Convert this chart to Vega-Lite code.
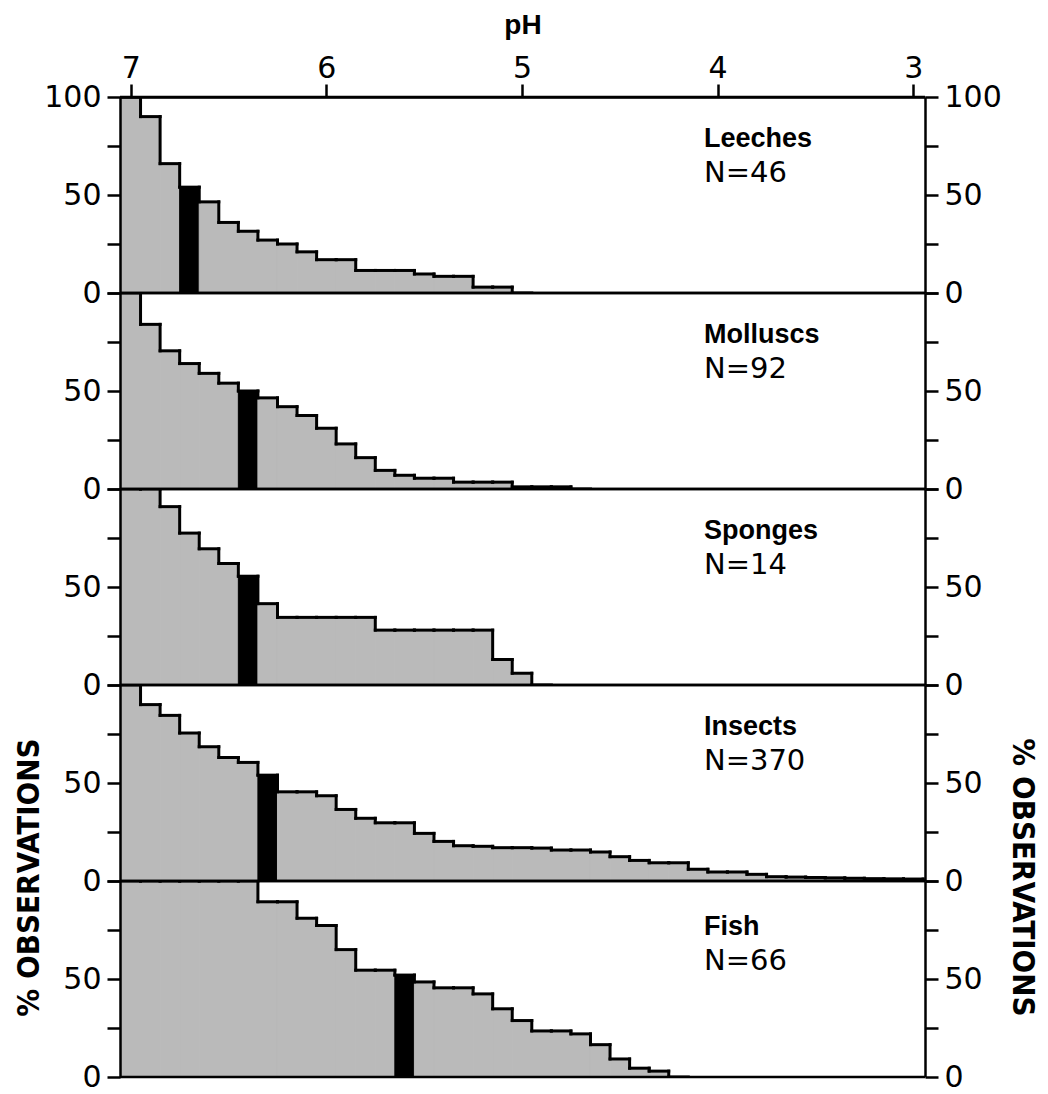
{
  "$schema": "https://vega.github.io/schema/vega-lite/v6.json",
  "padding": {"left": 12, "top": 11, "right": 5, "bottom": 0},
  "background": "white",
  "datasets": {
    "bins": [
      {"group":"Leeches","ph":7.0,"pct":100},
      {"group":"Leeches","ph":6.9,"pct":90},
      {"group":"Leeches","ph":6.8,"pct":66},
      {"group":"Leeches","ph":6.7,"pct":54,"median":true},
      {"group":"Leeches","ph":6.6,"pct":46.5},
      {"group":"Leeches","ph":6.5,"pct":36},
      {"group":"Leeches","ph":6.4,"pct":31.5},
      {"group":"Leeches","ph":6.3,"pct":27},
      {"group":"Leeches","ph":6.2,"pct":25},
      {"group":"Leeches","ph":6.1,"pct":21},
      {"group":"Leeches","ph":6.0,"pct":17},
      {"group":"Leeches","ph":5.9,"pct":17},
      {"group":"Leeches","ph":5.8,"pct":11.5},
      {"group":"Leeches","ph":5.7,"pct":11.5},
      {"group":"Leeches","ph":5.6,"pct":11.5},
      {"group":"Leeches","ph":5.5,"pct":9.7},
      {"group":"Leeches","ph":5.4,"pct":8.5},
      {"group":"Leeches","ph":5.3,"pct":8.5},
      {"group":"Leeches","ph":5.2,"pct":3},
      {"group":"Leeches","ph":5.1,"pct":3},
      {"group":"Leeches","ph":5.0,"pct":0},
      {"group":"Molluscs","ph":7.0,"pct":100},
      {"group":"Molluscs","ph":6.9,"pct":84},
      {"group":"Molluscs","ph":6.8,"pct":70.5},
      {"group":"Molluscs","ph":6.7,"pct":64},
      {"group":"Molluscs","ph":6.6,"pct":59},
      {"group":"Molluscs","ph":6.5,"pct":54},
      {"group":"Molluscs","ph":6.4,"pct":50,"median":true},
      {"group":"Molluscs","ph":6.3,"pct":46.5},
      {"group":"Molluscs","ph":6.2,"pct":42},
      {"group":"Molluscs","ph":6.1,"pct":37.5},
      {"group":"Molluscs","ph":6.0,"pct":31},
      {"group":"Molluscs","ph":5.9,"pct":23},
      {"group":"Molluscs","ph":5.8,"pct":16},
      {"group":"Molluscs","ph":5.7,"pct":9.5},
      {"group":"Molluscs","ph":5.6,"pct":7},
      {"group":"Molluscs","ph":5.5,"pct":5.5},
      {"group":"Molluscs","ph":5.4,"pct":5.5},
      {"group":"Molluscs","ph":5.3,"pct":3.5},
      {"group":"Molluscs","ph":5.2,"pct":3.5},
      {"group":"Molluscs","ph":5.1,"pct":3.5},
      {"group":"Molluscs","ph":5.0,"pct":1.1},
      {"group":"Molluscs","ph":4.9,"pct":1.1},
      {"group":"Molluscs","ph":4.8,"pct":1.1},
      {"group":"Molluscs","ph":4.7,"pct":0},
      {"group":"Sponges","ph":7.0,"pct":100},
      {"group":"Sponges","ph":6.9,"pct":100},
      {"group":"Sponges","ph":6.8,"pct":91},
      {"group":"Sponges","ph":6.7,"pct":77.5},
      {"group":"Sponges","ph":6.6,"pct":69.5},
      {"group":"Sponges","ph":6.5,"pct":62},
      {"group":"Sponges","ph":6.4,"pct":55.5,"median":true},
      {"group":"Sponges","ph":6.3,"pct":41.5},
      {"group":"Sponges","ph":6.2,"pct":34.5},
      {"group":"Sponges","ph":6.1,"pct":34.5},
      {"group":"Sponges","ph":6.0,"pct":34.5},
      {"group":"Sponges","ph":5.9,"pct":34.5},
      {"group":"Sponges","ph":5.8,"pct":34.5},
      {"group":"Sponges","ph":5.7,"pct":28},
      {"group":"Sponges","ph":5.6,"pct":28},
      {"group":"Sponges","ph":5.5,"pct":28},
      {"group":"Sponges","ph":5.4,"pct":28},
      {"group":"Sponges","ph":5.3,"pct":28},
      {"group":"Sponges","ph":5.2,"pct":28},
      {"group":"Sponges","ph":5.1,"pct":13},
      {"group":"Sponges","ph":5.0,"pct":6},
      {"group":"Sponges","ph":4.9,"pct":0},
      {"group":"Insects","ph":7.0,"pct":100},
      {"group":"Insects","ph":6.9,"pct":90},
      {"group":"Insects","ph":6.8,"pct":84.5},
      {"group":"Insects","ph":6.7,"pct":75.5},
      {"group":"Insects","ph":6.6,"pct":68.5},
      {"group":"Insects","ph":6.5,"pct":63},
      {"group":"Insects","ph":6.4,"pct":60.5},
      {"group":"Insects","ph":6.3,"pct":54,"median":true},
      {"group":"Insects","ph":6.2,"pct":45.5},
      {"group":"Insects","ph":6.1,"pct":45.5},
      {"group":"Insects","ph":6.0,"pct":43.5},
      {"group":"Insects","ph":5.9,"pct":36.5},
      {"group":"Insects","ph":5.8,"pct":32},
      {"group":"Insects","ph":5.7,"pct":29.7},
      {"group":"Insects","ph":5.6,"pct":29.7},
      {"group":"Insects","ph":5.5,"pct":24.3},
      {"group":"Insects","ph":5.4,"pct":20.2},
      {"group":"Insects","ph":5.3,"pct":18},
      {"group":"Insects","ph":5.2,"pct":17.7},
      {"group":"Insects","ph":5.1,"pct":17},
      {"group":"Insects","ph":5.0,"pct":17},
      {"group":"Insects","ph":4.9,"pct":16.8},
      {"group":"Insects","ph":4.8,"pct":15.8},
      {"group":"Insects","ph":4.7,"pct":15.8},
      {"group":"Insects","ph":4.6,"pct":14.8},
      {"group":"Insects","ph":4.5,"pct":12.4},
      {"group":"Insects","ph":4.4,"pct":10.5},
      {"group":"Insects","ph":4.3,"pct":9.3},
      {"group":"Insects","ph":4.2,"pct":9.3},
      {"group":"Insects","ph":4.1,"pct":6},
      {"group":"Insects","ph":4.0,"pct":4.6},
      {"group":"Insects","ph":3.9,"pct":4.6},
      {"group":"Insects","ph":3.8,"pct":3.4},
      {"group":"Insects","ph":3.7,"pct":2.2},
      {"group":"Insects","ph":3.6,"pct":2},
      {"group":"Insects","ph":3.5,"pct":1.8},
      {"group":"Insects","ph":3.4,"pct":1.6},
      {"group":"Insects","ph":3.3,"pct":1.4},
      {"group":"Insects","ph":3.2,"pct":1.2},
      {"group":"Insects","ph":3.1,"pct":1.1},
      {"group":"Insects","ph":3.0,"pct":1},
      {"group":"Insects","ph":2.9,"pct":0},
      {"group":"Fish","ph":7.0,"pct":100},
      {"group":"Fish","ph":6.9,"pct":100},
      {"group":"Fish","ph":6.8,"pct":100},
      {"group":"Fish","ph":6.7,"pct":100},
      {"group":"Fish","ph":6.6,"pct":100},
      {"group":"Fish","ph":6.5,"pct":100},
      {"group":"Fish","ph":6.4,"pct":100},
      {"group":"Fish","ph":6.3,"pct":89.4},
      {"group":"Fish","ph":6.2,"pct":89.4},
      {"group":"Fish","ph":6.1,"pct":81},
      {"group":"Fish","ph":6.0,"pct":77.3},
      {"group":"Fish","ph":5.9,"pct":65},
      {"group":"Fish","ph":5.8,"pct":54.5},
      {"group":"Fish","ph":5.7,"pct":54.5},
      {"group":"Fish","ph":5.6,"pct":52,"median":true},
      {"group":"Fish","ph":5.5,"pct":48.5},
      {"group":"Fish","ph":5.4,"pct":45.5},
      {"group":"Fish","ph":5.3,"pct":45.5},
      {"group":"Fish","ph":5.2,"pct":42.4},
      {"group":"Fish","ph":5.1,"pct":34.8},
      {"group":"Fish","ph":5.0,"pct":28.8},
      {"group":"Fish","ph":4.9,"pct":23.5},
      {"group":"Fish","ph":4.8,"pct":23.5},
      {"group":"Fish","ph":4.7,"pct":22},
      {"group":"Fish","ph":4.6,"pct":16.5},
      {"group":"Fish","ph":4.5,"pct":9.2},
      {"group":"Fish","ph":4.4,"pct":4.5},
      {"group":"Fish","ph":4.3,"pct":3},
      {"group":"Fish","ph":4.2,"pct":0}
    ],
    "labels": [
      {"group":"Leeches","name":"Leeches","n":"N=46"},
      {"group":"Molluscs","name":"Molluscs","n":"N=92"},
      {"group":"Sponges","name":"Sponges","n":"N=14"},
      {"group":"Insects","name":"Insects","n":"N=370"},
      {"group":"Fish","name":"Fish","n":"N=66"}
    ]
  },
  "data": {"name": "bins"},
  "bounds": "flush",
  "spacing": 0,
  "vconcat": [
    {
      "width": 805, "height": 196,
      "transform": [
        {"filter": "datum.group === 'Leeches'"},
        {"calculate": "datum.ph + 0.05", "as": "hi"},
        {"calculate": "datum.ph - 0.05", "as": "lo"},
        {"window": [{"op": "lead", "field": "pct", "as": "next"}], "sort": [{"field": "ph", "order": "descending"}]}
      ],
      "layer": [
        {"mark": {"type": "bar", "clip": true, "strokeWidth": 1},
         "encoding": {
           "x": {"field": "hi", "type": "quantitative", "scale": {"domain": [2.94, 7.055], "reverse": true, "nice": false, "zero": false},
                 "axis": {"orient": "top", "values": [7,6,5,4,3], "title": "pH", "tickSize": 13, "labelPadding": 1, "titlePadding": 14, "labelFlush": false, "labelOverlap": false, "zindex": 1}},
           "x2": {"field": "lo"},
           "y": {"field": "pct", "type": "quantitative", "scale": {"domain": [0, 100], "nice": false},
                 "axis": {"orient": "left", "values": [0,25,50,75,100], "tickSize": 13, "labelPadding": 6, "title": null, "zindex": 1,
                          "labelExpr": "datum.value % 50 === 0 ? datum.label : ''"}},
           "y2": {"datum": 0},
           "color": {"condition": {"test": "datum.median === true", "value": "black"}, "value": "#bababa"},
           "stroke": {"condition": {"test": "datum.median === true", "value": "black"}, "value": "#bababa"}
         }},
        {"mark": {"type": "rule", "color": "black", "strokeWidth": 3, "strokeCap": "square", "clip": true},
         "encoding": {
           "x": {"field": "hi", "type": "quantitative", "scale": {"domain": [2.94, 7.055], "reverse": true, "nice": false, "zero": false}, "axis": null},
           "x2": {"field": "lo"},
           "y": {"field": "pct", "type": "quantitative", "scale": {"domain": [0, 100], "nice": false},
                 "axis": {"orient": "right", "values": [0,25,50,75,100], "tickSize": 13, "labelPadding": 6, "title": null, "zindex": 1,
                          "labelExpr": "datum.value % 50 === 0 ? datum.label : ''"}}
         }},
        {"transform": [{"filter": "datum.next != null"}],
         "mark": {"type": "rule", "color": "black", "strokeWidth": 3, "strokeCap": "square", "clip": true},
         "encoding": {
           "x": {"field": "lo", "type": "quantitative", "scale": {"domain": [2.94, 7.055], "reverse": true, "nice": false, "zero": false}, "axis": null},
           "y": {"field": "pct", "type": "quantitative", "scale": {"domain": [0, 100], "nice": false}, "axis": null},
           "y2": {"field": "next"}
         }},
        {"transform": [{"aggregate": [{"op": "count", "as": "n"}]}],
         "mark": {"type": "rule", "color": "black", "strokeWidth": 2.5},
         "encoding": {"y": {"datum": 0, "type": "quantitative", "scale": {"domain": [0, 100], "nice": false}, "axis": null}}},
        {"transform": [{"aggregate": [{"op": "count", "as": "n"}]}],
         "mark": {"type": "rule", "color": "black", "strokeWidth": 2.5},
         "encoding": {"y": {"datum": 100, "type": "quantitative", "scale": {"domain": [0, 100], "nice": false}, "axis": null}}},
        {"data": {"name": "labels"}, "transform": [{"filter": "datum.group === 'Leeches'"}],
         "mark": {"type": "text", "align": "left", "baseline": "alphabetic", "font": "Liberation Sans", "fontWeight": "bold", "fontSize": 27, "color": "black"},
         "encoding": {
           "x": {"datum": 4.07, "type": "quantitative", "scale": {"domain": [2.94, 7.055], "reverse": true, "nice": false, "zero": false}, "axis": null},
           "y": {"datum": 74.5, "type": "quantitative", "scale": {"domain": [0, 100], "nice": false}, "axis": null},
           "text": {"field": "name"}
         }},
        {"data": {"name": "labels"}, "transform": [{"filter": "datum.group === 'Leeches'"}],
         "mark": {"type": "text", "align": "left", "baseline": "alphabetic", "font": "DejaVu Sans", "fontSize": 29, "color": "black"},
         "encoding": {
           "x": {"datum": 4.07, "type": "quantitative", "scale": {"domain": [2.94, 7.055], "reverse": true, "nice": false, "zero": false}, "axis": null},
           "y": {"datum": 56.5, "type": "quantitative", "scale": {"domain": [0, 100], "nice": false}, "axis": null},
           "text": {"field": "n"}
         }}
      ],
      "resolve": {"axis": {"x": "independent", "y": "independent"}}
    },
    {
      "width": 805, "height": 196,
      "transform": [
        {"filter": "datum.group === 'Molluscs'"},
        {"calculate": "datum.ph + 0.05", "as": "hi"},
        {"calculate": "datum.ph - 0.05", "as": "lo"},
        {"window": [{"op": "lead", "field": "pct", "as": "next"}], "sort": [{"field": "ph", "order": "descending"}]}
      ],
      "layer": [
        {"mark": {"type": "bar", "clip": true, "strokeWidth": 1},
         "encoding": {
           "x": {"field": "hi", "type": "quantitative", "scale": {"domain": [2.94, 7.055], "reverse": true, "nice": false, "zero": false}, "axis": null},
           "x2": {"field": "lo"},
           "y": {"field": "pct", "type": "quantitative", "scale": {"domain": [0, 100], "nice": false},
                 "axis": {"orient": "left", "values": [0,25,50,75,100], "tickSize": 13, "labelPadding": 6, "title": null, "zindex": 1,
                          "labelExpr": "datum.value % 50 === 0 && datum.value < 100 ? datum.label : ''"}},
           "y2": {"datum": 0},
           "color": {"condition": {"test": "datum.median === true", "value": "black"}, "value": "#bababa"},
           "stroke": {"condition": {"test": "datum.median === true", "value": "black"}, "value": "#bababa"}
         }},
        {"mark": {"type": "rule", "color": "black", "strokeWidth": 3, "strokeCap": "square", "clip": true},
         "encoding": {
           "x": {"field": "hi", "type": "quantitative", "scale": {"domain": [2.94, 7.055], "reverse": true, "nice": false, "zero": false}, "axis": null},
           "x2": {"field": "lo"},
           "y": {"field": "pct", "type": "quantitative", "scale": {"domain": [0, 100], "nice": false},
                 "axis": {"orient": "right", "values": [0,25,50,75,100], "tickSize": 13, "labelPadding": 6, "title": null, "zindex": 1,
                          "labelExpr": "datum.value % 50 === 0 && datum.value < 100 ? datum.label : ''"}}
         }},
        {"transform": [{"filter": "datum.next != null"}],
         "mark": {"type": "rule", "color": "black", "strokeWidth": 3, "strokeCap": "square", "clip": true},
         "encoding": {
           "x": {"field": "lo", "type": "quantitative", "scale": {"domain": [2.94, 7.055], "reverse": true, "nice": false, "zero": false}, "axis": null},
           "y": {"field": "pct", "type": "quantitative", "scale": {"domain": [0, 100], "nice": false}, "axis": null},
           "y2": {"field": "next"}
         }},
        {"transform": [{"aggregate": [{"op": "count", "as": "n"}]}],
         "mark": {"type": "rule", "color": "black", "strokeWidth": 2.5},
         "encoding": {"y": {"datum": 0, "type": "quantitative", "scale": {"domain": [0, 100], "nice": false}, "axis": null}}},
        {"transform": [{"aggregate": [{"op": "count", "as": "n"}]}],
         "mark": {"type": "rule", "color": "black", "strokeWidth": 2.5},
         "encoding": {"y": {"datum": 100, "type": "quantitative", "scale": {"domain": [0, 100], "nice": false}, "axis": null}}},
        {"data": {"name": "labels"}, "transform": [{"filter": "datum.group === 'Molluscs'"}],
         "mark": {"type": "text", "align": "left", "baseline": "alphabetic", "font": "Liberation Sans", "fontWeight": "bold", "fontSize": 27, "color": "black"},
         "encoding": {
           "x": {"datum": 4.07, "type": "quantitative", "scale": {"domain": [2.94, 7.055], "reverse": true, "nice": false, "zero": false}, "axis": null},
           "y": {"datum": 74.5, "type": "quantitative", "scale": {"domain": [0, 100], "nice": false}, "axis": null},
           "text": {"field": "name"}
         }},
        {"data": {"name": "labels"}, "transform": [{"filter": "datum.group === 'Molluscs'"}],
         "mark": {"type": "text", "align": "left", "baseline": "alphabetic", "font": "DejaVu Sans", "fontSize": 29, "color": "black"},
         "encoding": {
           "x": {"datum": 4.07, "type": "quantitative", "scale": {"domain": [2.94, 7.055], "reverse": true, "nice": false, "zero": false}, "axis": null},
           "y": {"datum": 56.5, "type": "quantitative", "scale": {"domain": [0, 100], "nice": false}, "axis": null},
           "text": {"field": "n"}
         }}
      ],
      "resolve": {"axis": {"x": "independent", "y": "independent"}}
    },
    {
      "width": 805, "height": 196,
      "transform": [
        {"filter": "datum.group === 'Sponges'"},
        {"calculate": "datum.ph + 0.05", "as": "hi"},
        {"calculate": "datum.ph - 0.05", "as": "lo"},
        {"window": [{"op": "lead", "field": "pct", "as": "next"}], "sort": [{"field": "ph", "order": "descending"}]}
      ],
      "layer": [
        {"mark": {"type": "bar", "clip": true, "strokeWidth": 1},
         "encoding": {
           "x": {"field": "hi", "type": "quantitative", "scale": {"domain": [2.94, 7.055], "reverse": true, "nice": false, "zero": false}, "axis": null},
           "x2": {"field": "lo"},
           "y": {"field": "pct", "type": "quantitative", "scale": {"domain": [0, 100], "nice": false},
                 "axis": {"orient": "left", "values": [0,25,50,75,100], "tickSize": 13, "labelPadding": 6, "title": null, "zindex": 1,
                          "labelExpr": "datum.value % 50 === 0 && datum.value < 100 ? datum.label : ''"}},
           "y2": {"datum": 0},
           "color": {"condition": {"test": "datum.median === true", "value": "black"}, "value": "#bababa"},
           "stroke": {"condition": {"test": "datum.median === true", "value": "black"}, "value": "#bababa"}
         }},
        {"mark": {"type": "rule", "color": "black", "strokeWidth": 3, "strokeCap": "square", "clip": true},
         "encoding": {
           "x": {"field": "hi", "type": "quantitative", "scale": {"domain": [2.94, 7.055], "reverse": true, "nice": false, "zero": false}, "axis": null},
           "x2": {"field": "lo"},
           "y": {"field": "pct", "type": "quantitative", "scale": {"domain": [0, 100], "nice": false},
                 "axis": {"orient": "right", "values": [0,25,50,75,100], "tickSize": 13, "labelPadding": 6, "title": null, "zindex": 1,
                          "labelExpr": "datum.value % 50 === 0 && datum.value < 100 ? datum.label : ''"}}
         }},
        {"transform": [{"filter": "datum.next != null"}],
         "mark": {"type": "rule", "color": "black", "strokeWidth": 3, "strokeCap": "square", "clip": true},
         "encoding": {
           "x": {"field": "lo", "type": "quantitative", "scale": {"domain": [2.94, 7.055], "reverse": true, "nice": false, "zero": false}, "axis": null},
           "y": {"field": "pct", "type": "quantitative", "scale": {"domain": [0, 100], "nice": false}, "axis": null},
           "y2": {"field": "next"}
         }},
        {"transform": [{"aggregate": [{"op": "count", "as": "n"}]}],
         "mark": {"type": "rule", "color": "black", "strokeWidth": 2.5},
         "encoding": {"y": {"datum": 0, "type": "quantitative", "scale": {"domain": [0, 100], "nice": false}, "axis": null}}},
        {"transform": [{"aggregate": [{"op": "count", "as": "n"}]}],
         "mark": {"type": "rule", "color": "black", "strokeWidth": 2.5},
         "encoding": {"y": {"datum": 100, "type": "quantitative", "scale": {"domain": [0, 100], "nice": false}, "axis": null}}},
        {"data": {"name": "labels"}, "transform": [{"filter": "datum.group === 'Sponges'"}],
         "mark": {"type": "text", "align": "left", "baseline": "alphabetic", "font": "Liberation Sans", "fontWeight": "bold", "fontSize": 27, "color": "black"},
         "encoding": {
           "x": {"datum": 4.07, "type": "quantitative", "scale": {"domain": [2.94, 7.055], "reverse": true, "nice": false, "zero": false}, "axis": null},
           "y": {"datum": 74.5, "type": "quantitative", "scale": {"domain": [0, 100], "nice": false}, "axis": null},
           "text": {"field": "name"}
         }},
        {"data": {"name": "labels"}, "transform": [{"filter": "datum.group === 'Sponges'"}],
         "mark": {"type": "text", "align": "left", "baseline": "alphabetic", "font": "DejaVu Sans", "fontSize": 29, "color": "black"},
         "encoding": {
           "x": {"datum": 4.07, "type": "quantitative", "scale": {"domain": [2.94, 7.055], "reverse": true, "nice": false, "zero": false}, "axis": null},
           "y": {"datum": 56.5, "type": "quantitative", "scale": {"domain": [0, 100], "nice": false}, "axis": null},
           "text": {"field": "n"}
         }}
      ],
      "resolve": {"axis": {"x": "independent", "y": "independent"}}
    },
    {
      "width": 805, "height": 196,
      "transform": [
        {"filter": "datum.group === 'Insects'"},
        {"calculate": "datum.ph + 0.05", "as": "hi"},
        {"calculate": "datum.ph - 0.05", "as": "lo"},
        {"window": [{"op": "lead", "field": "pct", "as": "next"}], "sort": [{"field": "ph", "order": "descending"}]}
      ],
      "layer": [
        {"mark": {"type": "bar", "clip": true, "strokeWidth": 1},
         "encoding": {
           "x": {"field": "hi", "type": "quantitative", "scale": {"domain": [2.94, 7.055], "reverse": true, "nice": false, "zero": false}, "axis": null},
           "x2": {"field": "lo"},
           "y": {"field": "pct", "type": "quantitative", "scale": {"domain": [0, 100], "nice": false},
                 "axis": {"orient": "left", "values": [0,25,50,75,100], "tickSize": 13, "labelPadding": 6, "title": null, "zindex": 1,
                          "labelExpr": "datum.value % 50 === 0 && datum.value < 100 ? datum.label : ''"}},
           "y2": {"datum": 0},
           "color": {"condition": {"test": "datum.median === true", "value": "black"}, "value": "#bababa"},
           "stroke": {"condition": {"test": "datum.median === true", "value": "black"}, "value": "#bababa"}
         }},
        {"mark": {"type": "rule", "color": "black", "strokeWidth": 3, "strokeCap": "square", "clip": true},
         "encoding": {
           "x": {"field": "hi", "type": "quantitative", "scale": {"domain": [2.94, 7.055], "reverse": true, "nice": false, "zero": false}, "axis": null},
           "x2": {"field": "lo"},
           "y": {"field": "pct", "type": "quantitative", "scale": {"domain": [0, 100], "nice": false},
                 "axis": {"orient": "right", "values": [0,25,50,75,100], "tickSize": 13, "labelPadding": 6, "title": null, "zindex": 1,
                          "labelExpr": "datum.value % 50 === 0 && datum.value < 100 ? datum.label : ''"}}
         }},
        {"transform": [{"filter": "datum.next != null"}],
         "mark": {"type": "rule", "color": "black", "strokeWidth": 3, "strokeCap": "square", "clip": true},
         "encoding": {
           "x": {"field": "lo", "type": "quantitative", "scale": {"domain": [2.94, 7.055], "reverse": true, "nice": false, "zero": false}, "axis": null},
           "y": {"field": "pct", "type": "quantitative", "scale": {"domain": [0, 100], "nice": false}, "axis": null},
           "y2": {"field": "next"}
         }},
        {"transform": [{"aggregate": [{"op": "count", "as": "n"}]}],
         "mark": {"type": "rule", "color": "black", "strokeWidth": 2.5},
         "encoding": {"y": {"datum": 0, "type": "quantitative", "scale": {"domain": [0, 100], "nice": false}, "axis": null}}},
        {"transform": [{"aggregate": [{"op": "count", "as": "n"}]}],
         "mark": {"type": "rule", "color": "black", "strokeWidth": 2.5},
         "encoding": {"y": {"datum": 100, "type": "quantitative", "scale": {"domain": [0, 100], "nice": false}, "axis": null}}},
        {"data": {"name": "labels"}, "transform": [{"filter": "datum.group === 'Insects'"}],
         "mark": {"type": "text", "align": "left", "baseline": "alphabetic", "font": "Liberation Sans", "fontWeight": "bold", "fontSize": 27, "color": "black"},
         "encoding": {
           "x": {"datum": 4.07, "type": "quantitative", "scale": {"domain": [2.94, 7.055], "reverse": true, "nice": false, "zero": false}, "axis": null},
           "y": {"datum": 74.5, "type": "quantitative", "scale": {"domain": [0, 100], "nice": false}, "axis": null},
           "text": {"field": "name"}
         }},
        {"data": {"name": "labels"}, "transform": [{"filter": "datum.group === 'Insects'"}],
         "mark": {"type": "text", "align": "left", "baseline": "alphabetic", "font": "DejaVu Sans", "fontSize": 29, "color": "black"},
         "encoding": {
           "x": {"datum": 4.07, "type": "quantitative", "scale": {"domain": [2.94, 7.055], "reverse": true, "nice": false, "zero": false}, "axis": null},
           "y": {"datum": 56.5, "type": "quantitative", "scale": {"domain": [0, 100], "nice": false}, "axis": null},
           "text": {"field": "n"}
         }}
      ],
      "resolve": {"axis": {"x": "independent", "y": "independent"}}
    },
    {
      "width": 805, "height": 196,
      "transform": [
        {"filter": "datum.group === 'Fish'"},
        {"calculate": "datum.ph + 0.05", "as": "hi"},
        {"calculate": "datum.ph - 0.05", "as": "lo"},
        {"window": [{"op": "lead", "field": "pct", "as": "next"}], "sort": [{"field": "ph", "order": "descending"}]}
      ],
      "layer": [
        {"mark": {"type": "bar", "clip": true, "strokeWidth": 1},
         "encoding": {
           "x": {"field": "hi", "type": "quantitative", "scale": {"domain": [2.94, 7.055], "reverse": true, "nice": false, "zero": false}, "axis": null},
           "x2": {"field": "lo"},
           "y": {"field": "pct", "type": "quantitative", "scale": {"domain": [0, 100], "nice": false},
                 "axis": {"orient": "left", "values": [0,25,50,75,100], "tickSize": 13, "labelPadding": 6, "zindex": 1,
                          "title": "% OBSERVATIONS", "titleX": -91, "titleY": -4, "titleAlign": "center", "titleAngle": -90, "titleBaseline": "middle",
                          "labelExpr": "datum.value % 50 === 0 && datum.value < 100 ? datum.label : ''"}},
           "y2": {"datum": 0},
           "color": {"condition": {"test": "datum.median === true", "value": "black"}, "value": "#bababa"},
           "stroke": {"condition": {"test": "datum.median === true", "value": "black"}, "value": "#bababa"}
         }},
        {"mark": {"type": "rule", "color": "black", "strokeWidth": 3, "strokeCap": "square", "clip": true},
         "encoding": {
           "x": {"field": "hi", "type": "quantitative", "scale": {"domain": [2.94, 7.055], "reverse": true, "nice": false, "zero": false}, "axis": null},
           "x2": {"field": "lo"},
           "y": {"field": "pct", "type": "quantitative", "scale": {"domain": [0, 100], "nice": false},
                 "axis": {"orient": "right", "values": [0,25,50,75,100], "tickSize": 13, "labelPadding": 6, "zindex": 1,
                          "title": "% OBSERVATIONS", "titleX": 96, "titleY": -4, "titleAlign": "center", "titleAngle": 90, "titleBaseline": "middle",
                          "labelExpr": "datum.value % 50 === 0 && datum.value < 100 ? datum.label : ''"}}
         }},
        {"transform": [{"filter": "datum.next != null"}],
         "mark": {"type": "rule", "color": "black", "strokeWidth": 3, "strokeCap": "square", "clip": true},
         "encoding": {
           "x": {"field": "lo", "type": "quantitative", "scale": {"domain": [2.94, 7.055], "reverse": true, "nice": false, "zero": false}, "axis": null},
           "y": {"field": "pct", "type": "quantitative", "scale": {"domain": [0, 100], "nice": false}, "axis": null},
           "y2": {"field": "next"}
         }},
        {"transform": [{"aggregate": [{"op": "count", "as": "n"}]}],
         "mark": {"type": "rule", "color": "black", "strokeWidth": 2.5},
         "encoding": {"y": {"datum": 0, "type": "quantitative", "scale": {"domain": [0, 100], "nice": false}, "axis": null}}},
        {"transform": [{"aggregate": [{"op": "count", "as": "n"}]}],
         "mark": {"type": "rule", "color": "black", "strokeWidth": 2.5},
         "encoding": {"y": {"datum": 100, "type": "quantitative", "scale": {"domain": [0, 100], "nice": false}, "axis": null}}},
        {"data": {"name": "labels"}, "transform": [{"filter": "datum.group === 'Fish'"}],
         "mark": {"type": "text", "align": "left", "baseline": "alphabetic", "font": "Liberation Sans", "fontWeight": "bold", "fontSize": 27, "color": "black"},
         "encoding": {
           "x": {"datum": 4.07, "type": "quantitative", "scale": {"domain": [2.94, 7.055], "reverse": true, "nice": false, "zero": false}, "axis": null},
           "y": {"datum": 72.5, "type": "quantitative", "scale": {"domain": [0, 100], "nice": false}, "axis": null},
           "text": {"field": "name"}
         }},
        {"data": {"name": "labels"}, "transform": [{"filter": "datum.group === 'Fish'"}],
         "mark": {"type": "text", "align": "left", "baseline": "alphabetic", "font": "DejaVu Sans", "fontSize": 29, "color": "black"},
         "encoding": {
           "x": {"datum": 4.07, "type": "quantitative", "scale": {"domain": [2.94, 7.055], "reverse": true, "nice": false, "zero": false}, "axis": null},
           "y": {"datum": 54.5, "type": "quantitative", "scale": {"domain": [0, 100], "nice": false}, "axis": null},
           "text": {"field": "n"}
         }}
      ],
      "resolve": {"axis": {"x": "independent", "y": "independent"}}
    }
  ],
  "config": {
    "view": {"stroke": null},
    "axis": {
      "grid": false,
      "domainColor": "black", "domainWidth": 2.5,
      "tickColor": "black", "tickWidth": 2.5,
      "labelColor": "black", "labelFont": "DejaVu Sans", "labelFontSize": 30,
      "titleColor": "black", "titleFont": "DejaVu Sans Condensed", "titleFontWeight": "bold", "titleFontSize": 31
    },
    "axisX": {"titleFont": "Liberation Sans", "titleFontSize": 28}
  }
}
